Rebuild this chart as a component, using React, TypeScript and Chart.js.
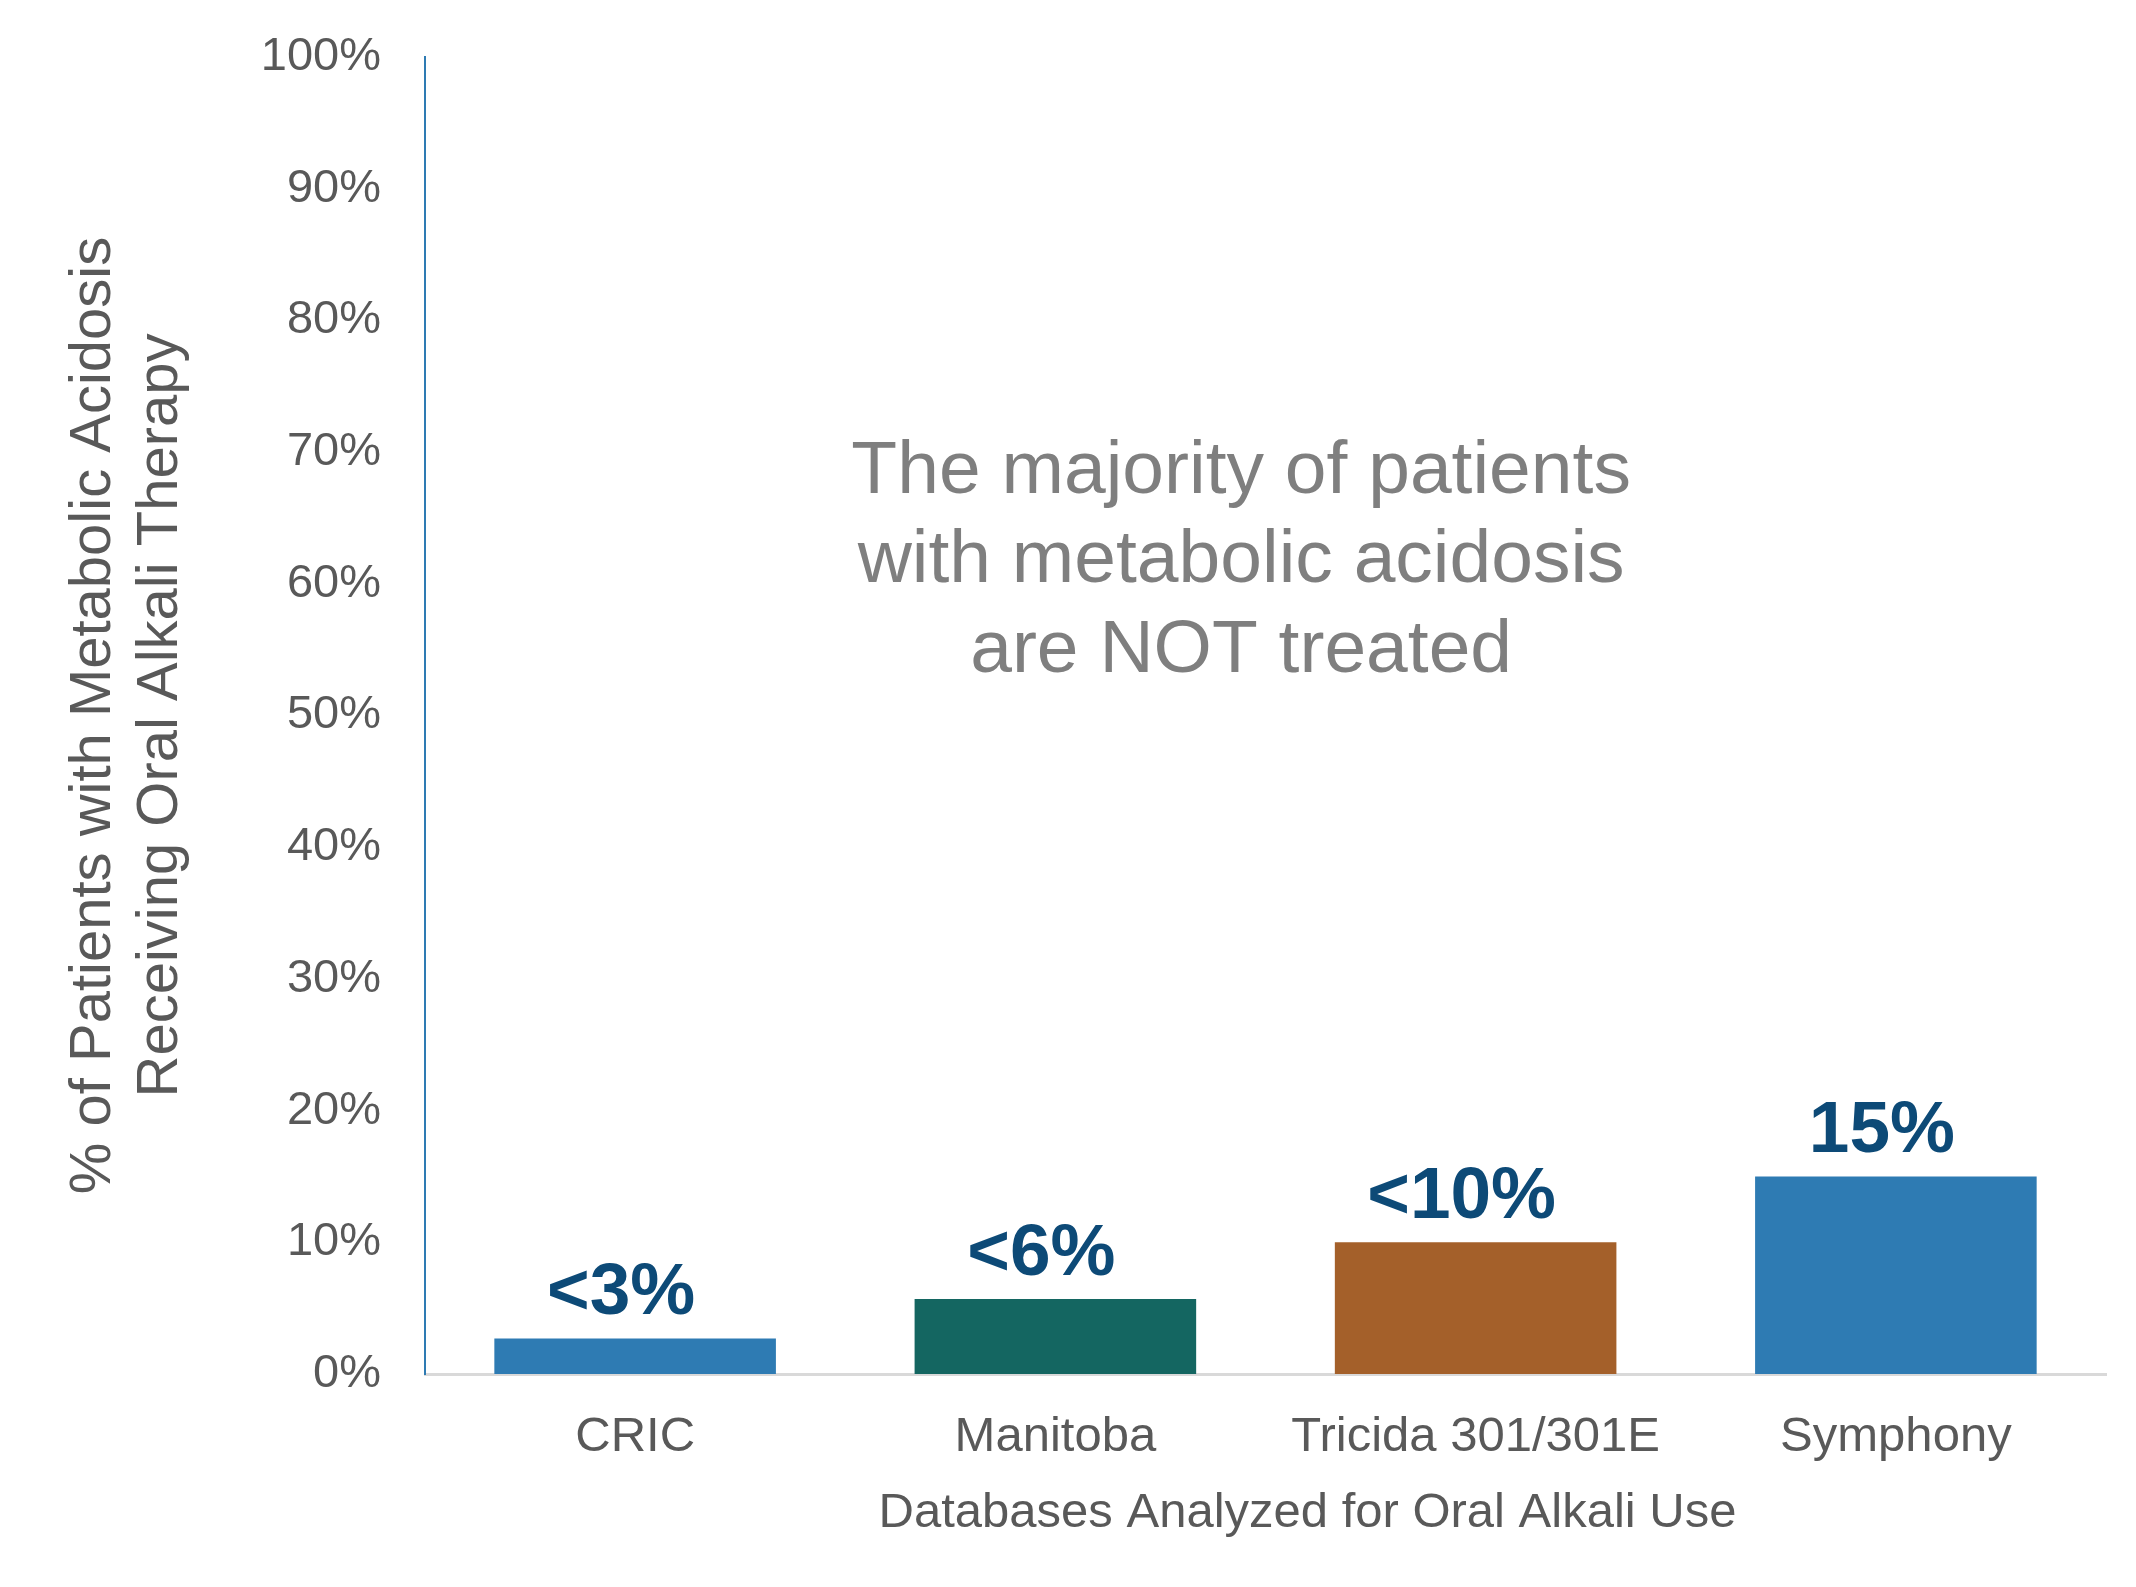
import React, { useEffect, useRef } from "react";
import { Chart, registerables } from "chart.js";

Chart.register(...registerables);

const categories = ["CRIC", "Manitoba", "Tricida 301/301E", "Symphony"];
const values = [2.7, 5.7, 10, 15];
const valueLabels = ["<3%", "<6%", "<10%", "15%"];
const barColors = ["#2E7BB3", "#146661", "#A4602A", "#2E7BB3"];
const yTickValues = [0, 10, 20, 30, 40, 50, 60, 70, 80, 90, 100];
const yTitleLines = ["% of Patients with Metabolic Acidosis", "Receiving Oral Alkali Therapy"];
const xTitle = "Databases Analyzed for Oral Alkali Use";
const noteLines = ["The majority of patients", "with metabolic acidosis", "are NOT treated"];

const FONT = "'Liberation Sans', Arial, Helvetica, sans-serif";

const textPlugin = {
  id: "customText",
  afterDatasetsDraw(chart: any) {
    const ctx = chart.ctx;
    const area = chart.chartArea;
    const yScale = chart.scales.y;
    // value labels
    const meta = chart.getDatasetMeta(0);
    ctx.save();
    ctx.font = `bold 73px ${FONT}`;
    ctx.fillStyle = "#0D4A77";
    ctx.textAlign = "center";
    ctx.textBaseline = "alphabetic";
    meta.data.forEach((bar: any, i: number) => {
      ctx.fillText(valueLabels[i], bar.x - 14, bar.y - 24);
    });
    ctx.restore();

    // annotation
    ctx.save();
    ctx.font = `75px ${FONT}`;
    ctx.fillStyle = "#7F7F7F";
    ctx.textAlign = "center";
    ctx.textBaseline = "alphabetic";
    const nx = area.left + (area.right - area.left) * 0.4855;
    const ny = yScale.getPixelForValue(66.9);
    noteLines.forEach((line, i) => ctx.fillText(line, nx, ny + i * 89.5));
    ctx.restore();

    // x title
    ctx.save();
    ctx.font = `49px ${FONT}`;
    ctx.fillStyle = "#595959";
    ctx.textAlign = "center";
    ctx.textBaseline = "alphabetic";
    ctx.fillText(xTitle, area.left + (area.right - area.left) * 0.525, area.bottom + 153);
    ctx.restore();

    // y title
    ctx.save();
    ctx.font = `58px ${FONT}`;
    ctx.fillStyle = "#595959";
    ctx.textAlign = "center";
    ctx.textBaseline = "alphabetic";
    const cy = (area.top + area.bottom) / 2;
    const xs = [110, 177];
    yTitleLines.forEach((line, i) => {
      ctx.save();
      ctx.translate(xs[i], cy);
      ctx.rotate(-Math.PI / 2);
      ctx.fillText(line, 0, 0);
      ctx.restore();
    });
    ctx.restore();
  },
};

export default function App() {
  const ref = useRef<HTMLCanvasElement | null>(null);
  useEffect(() => {
    document.body.style.margin = "0";
    const canvas = ref.current!;
    const chart = new Chart(canvas, {
      type: "bar",
      data: {
        labels: categories,
        datasets: [
          {
            data: values,
            backgroundColor: barColors,
            borderWidth: 0,
            barPercentage: 0.67,
            categoryPercentage: 1,
          },
        ],
      },
      options: {
        animation: false,
        responsive: false,
        devicePixelRatio: 1,
        layout: { padding: { top: 57, right: 30, bottom: 0, left: 0 } },
        plugins: { legend: { display: false }, tooltip: { enabled: false } },
        scales: {
          x: {
            grid: { display: false, drawTicks: false },
            border: { display: true, color: "#D9D9D9", width: 3 },
            ticks: {
              padding: 34,
              color: "#595959",
              font: { family: FONT, size: 49 },
              maxRotation: 0,
              autoSkip: false,
            },
            afterFit: (s: any) => {
              s.height = 213;
            },
          },
          y: {
            min: 0,
            max: 100,
            grid: { display: false, drawTicks: false },
            border: { display: true, color: "#2E7BB3", width: 2 },
            afterBuildTicks: (s: any) => {
              s.ticks = yTickValues.map((v) => ({ value: v }));
            },
            ticks: {
              padding: 44,
              color: "#595959",
              font: { family: FONT, size: 47 },
              callback: (v: any) => `${v}%`,
            },
            afterFit: (s: any) => {
              s.width = 425;
              s.paddingTop = 0;
              s.paddingBottom = 0;
            },
          },
        },
      },
      plugins: [textPlugin],
    });
    return () => chart.destroy();
  }, []);
  return (
    <div style={{ width: 2136, height: 1587, background: "#fff" }}>
      <canvas ref={ref} width={2136} height={1587} style={{ display: "block", width: 2136, height: 1587 }} />
    </div>
  );
}
